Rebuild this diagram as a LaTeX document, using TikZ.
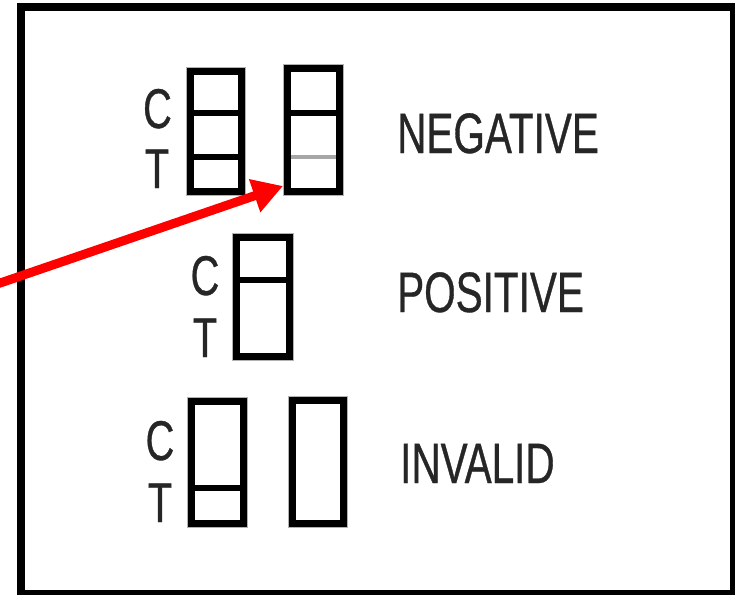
\documentclass[tikz,border=0pt]{standalone}
\usepackage{fontspec}
\newfontfamily\condfont[FakeStretch=0.71,FakeBold=0.6]{Liberation Sans}
\usetikzlibrary{arrows.meta}
\begin{document}
\begin{tikzpicture}[x=1pt,y=-1pt,
  strip/.style={draw=black, line width=6.5pt, rectangle, inner sep=0pt, outer sep=0pt, fill=white},
  halo/.style={draw=black!30, line width=9.5pt},
  divider/.style={draw=black, line width=6pt},
  faint/.style={draw=black!35, line width=4.5pt},
  letter/.style={inner sep=0pt, anchor=base, text=black!85, font=\condfont\fontsize{56}{60}\selectfont},
  result/.style={inner sep=0pt, anchor=base west, text=black!85, font=\condfont\fontsize{57}{60}\selectfont},
  pointer/.style={draw=red, line width=9pt, -{Triangle[length=30pt,width=33pt]}}]
\useasboundingbox (0,0) rectangle (735,594);
\fill[white] (0,0) rectangle (735,594);
% outer frame
\draw[line width=8pt] (21,7) rectangle (734,594);
% halos (soft edges)
\draw[halo] (190.5,71.5) rectangle (241.5,191.5);
\draw[halo] (287.5,68.5) rectangle (339.5,191.5);
\draw[halo] (236.5,237.5) rectangle (289.5,356.5);
\draw[halo] (191.5,401.5) rectangle (243.5,523.5);
\draw[halo] (292.5,400.5) rectangle (343.5,523.5);
% strips
\node[strip, minimum width=51pt, minimum height=120pt] (negL) at (216,131.5) {};
\node[strip, minimum width=52pt, minimum height=123pt] (negR) at (313.5,130) {};
\node[strip, minimum width=53pt, minimum height=119pt] (pos) at (263,297) {};
\node[strip, minimum width=52pt, minimum height=122pt] (invL) at (217.5,462.5) {};
\node[strip, minimum width=51pt, minimum height=123pt] (invR) at (318,462) {};
% dividers
\draw[divider] (negL.west |- 0,113) -- (negL.east |- 0,113);
\draw[divider] (negL.west |- 0,157) -- (negL.east |- 0,157);
\draw[divider] (negR.west |- 0,113) -- (negR.east |- 0,113);
\draw[faint] ([xshift=3.25pt]negR.west |- 0,157) -- ([xshift=-3.25pt]negR.east |- 0,157);
\draw[divider] (pos.west |- 0,280) -- (pos.east |- 0,280);
\draw[divider] (invL.west |- 0,488) -- (invL.east |- 0,488);
% C / T letters
\node[letter] (c1) at (157.5,128) {C};
\node[letter] (t1) at (157,188) {T};
\node[letter] (c2) at (205,295) {C};
\node[letter] (t2) at (205,357) {T};
\node[letter] (c3) at (160,460) {C};
\node[letter] (t3) at (160,522) {T};
% results
\node[result] (neg) at (397,153) {NEGATIVE};
\node[result] (posl) at (397,312) {POSITIVE};
\node[result] (inv) at (400,483) {INVALID};
% arrow
\coordinate (tail) at (-10,286.5);
\coordinate (tip) at (283,186);
\draw[pointer] (tail) -- (tip);
\end{tikzpicture}
\end{document}
